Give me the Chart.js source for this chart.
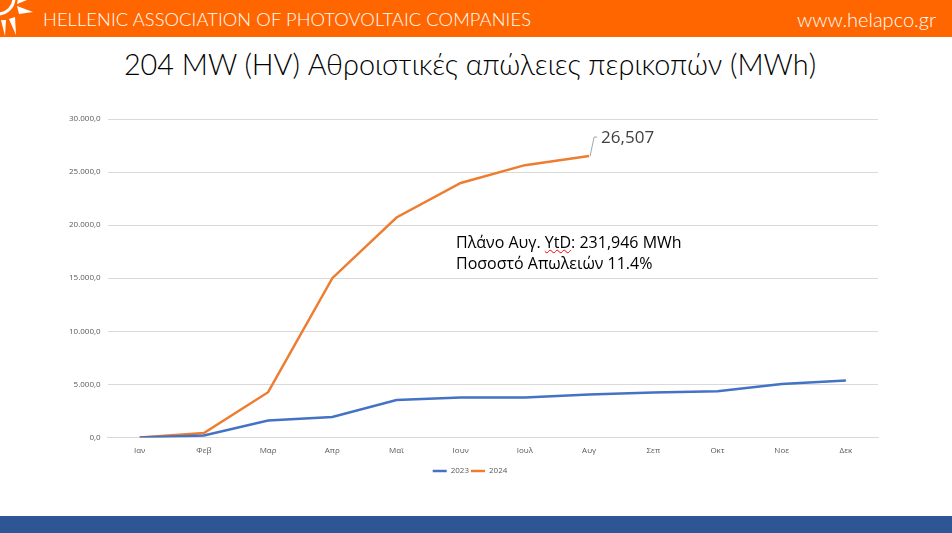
<!DOCTYPE html>
<html><head><meta charset="utf-8">
<script src="https://cdn.jsdelivr.net/npm/chart.js@4/dist/chart.umd.min.js"></script>
<style>
html,body{margin:0;padding:0;background:#fff;width:952px;height:533px;overflow:hidden;position:relative;font-family:Lato,"Open Sans",sans-serif}
#hdr{position:absolute;left:0;top:0;width:952px;height:37px;background:#FF6600}
#hdrL{position:absolute;left:43px;top:8px;color:#fff;font:300 18.3px Lato,sans-serif;white-space:nowrap;letter-spacing:0.1px}
#hdrR{position:absolute;right:16px;top:7px;color:#fff;font:300 20px Lato,sans-serif;white-space:nowrap}
#logo{position:absolute;left:0;top:0}
#title{position:absolute;left:0;width:940px;top:47px;text-align:center;font:300 28.8px Lato,sans-serif;color:#000;white-space:nowrap}
#note{position:absolute;left:456px;top:232px;font:16px "Open Sans",sans-serif;color:#000;line-height:21px;white-space:nowrap}
#note span{text-decoration:underline wavy red;text-decoration-thickness:1px}
#foot{position:absolute;left:0;top:516px;width:952px;height:17px;background:#2E5594}
#wrap{position:absolute;left:0;top:100px;width:952px;height:390px}
</style></head><body>
<div id="hdr"></div>
<svg id="logo" width="40" height="37" viewBox="0 0 40 37">
<path d="M-2,14 A16,16 0 0 0 14,-2" stroke="#fff" stroke-width="3" fill="none"/>
<polygon points="17,6 33,12 19,14" fill="#fff"/>
<polygon points="15,17 16,35 9,19" fill="#fff"/>
<polygon points="6,20 5,36 1,20" fill="#fff"/>
<polygon points="18,-2 27,0 17,4" fill="#fff"/>
</svg>
<div id="hdrL">HELLENIC ASSOCIATION OF PHOTOVOLTAIC COMPANIES</div>
<div id="hdrR">www.helapco.gr</div>
<div id="title">204 MW (HV) Αθροιστικές απώλειες περικοπών (MWh)</div>
<div id="wrap"><canvas id="c"></canvas></div>
<div id="note">Πλάνο Αυγ. <span>YtD</span>: 231,946 MWh<br>Ποσοστό Απωλειών 11.4%</div>
<div id="foot"></div>
<script>
const months = ['Ιαν','Φεβ','Μαρ','Απρ','Μαϊ','Ιουν','Ιουλ','Αυγ','Σεπ','Οκτ','Νοε','Δεκ'];
const series2023 = [0,190,1600,1930,3530,3760,3770,4050,4230,4350,5020,5350];
const series2024 = [0,410,4260,15000,20720,23970,25650,26507];
const yTicks = [0,5000,10000,15000,20000,25000,30000];
const lastLabel = '26,507';

function fmt(v){
  const s = Math.round(v).toString().replace(/\B(?=(\d{3})+(?!\d))/g,'.');
  return s + ',0';
}

const labelPlugin = {
  id:'lastLabel',
  afterDatasetsDraw(chart){
    const meta = chart.getDatasetMeta(1);
    const pt = meta.data[series2024.length-1];
    const ctx = chart.ctx;
    ctx.save();
    ctx.strokeStyle = '#a6a6a6';
    ctx.lineWidth = 1;
    ctx.beginPath();
    ctx.moveTo(pt.x+1, pt.y);
    ctx.lineTo(pt.x+5, pt.y-19);
    ctx.lineTo(pt.x+8, pt.y-19);
    ctx.stroke();
    ctx.fillStyle = '#404040';
    ctx.font = '17px "Open Sans", sans-serif';
    ctx.textBaseline = 'middle';
    ctx.fillText(lastLabel, pt.x+12, pt.y-18);
    ctx.restore();
  }
};

new Chart(document.getElementById('c'), {
  type:'line',
  data:{
    labels: months,
    datasets:[
      {label:'2023', data:series2023, borderColor:'#4472C4', backgroundColor:'#4472C4', borderWidth:2.5, pointRadius:0, tension:0},
      {label:'2024', data:series2024, borderColor:'#ED7D31', backgroundColor:'#ED7D31', borderWidth:2.5, pointRadius:0, tension:0}
    ]
  },
  options:{
    responsive:true, maintainAspectRatio:false, animation:false,
    layout:{padding:{left:62,right:74,top:19,bottom:5}},
    plugins:{
      legend:{position:'bottom', labels:{usePointStyle:true, pointStyle:'line', pointStyleWidth:14, boxHeight:2, font:{size:8,family:'"Open Sans", sans-serif'}, color:'#595959', padding:2}},
      tooltip:{enabled:false}
    },
    scales:{
      x:{offset:true, grid:{display:false, drawTicks:false}, border:{color:'#d9d9d9'},
         ticks:{font:{size:8,family:'"Open Sans", sans-serif'}, color:'#595959', padding:9}},
      y:{min:0,max:30000, afterBuildTicks(ax){ax.ticks = yTicks.map(v=>({value:v}));},
         grid:{color:'#d9d9d9', drawTicks:false}, border:{display:false},
         ticks:{font:{size:8,family:'"Open Sans", sans-serif'}, color:'#595959', padding:7, callback:v=>fmt(v)}}
    }
  },
  plugins:[labelPlugin]
});
</script>
</body></html>
